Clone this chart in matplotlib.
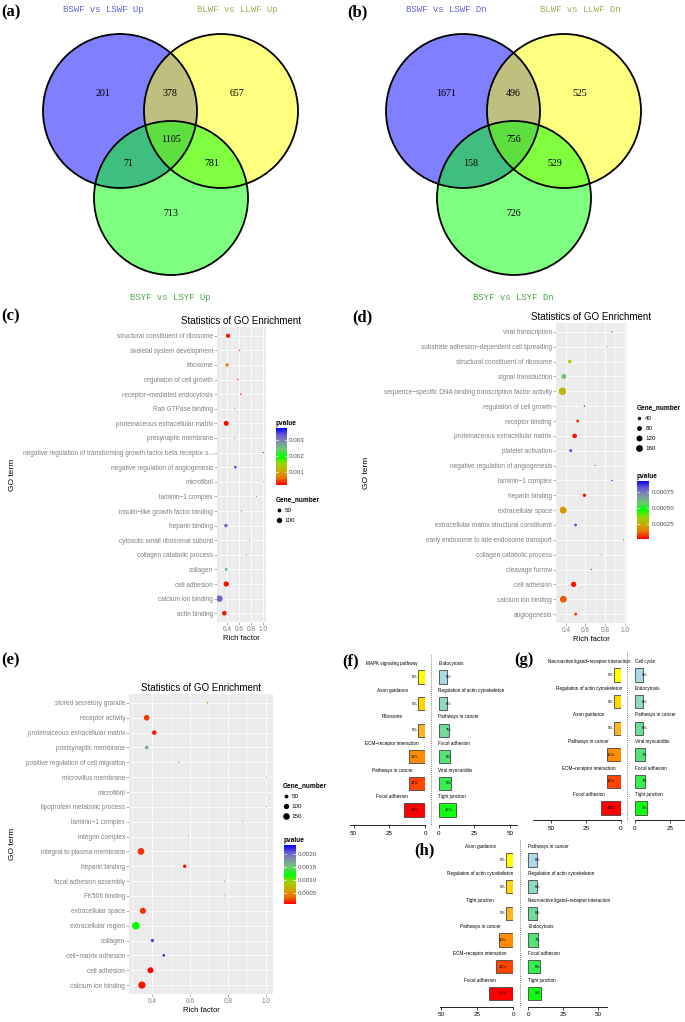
import numpy as np
import matplotlib.pyplot as plt
from matplotlib.patches import Circle
from matplotlib.lines import Line2D
from matplotlib.colors import LinearSegmentedColormap, Normalize
from matplotlib.cm import ScalarMappable

plt.rcParams['font.family'] = ['Liberation Sans', 'DejaVu Sans']

W, H = 685, 1022

# ---- Venn data: regions = A only, A&B, B only, A&C, A&B&C, B&C, C only
venn_a_sets = ["BSWF vs LSWF Up", "BLWF vs LLWF Up", "BSYF vs LSYF Up"]
venn_a_counts = [201, 378, 657, 71, 1105, 781, 713]
venn_b_sets = ["BSWF vs LSWF Dn", "BLWF vs LLWF Dn", "BSYF vs LSYF Dn"]
venn_b_counts = [1671, 496, 525, 158, 756, 529, 726]

# ---- GO enrichment (c)
c_terms = ["structural constituent of ribosome", "skeletal system development", "ribosome",
           "regulation of cell growth", "receptor\u2212mediated endocytosis", "Rab GTPase binding",
           "proteinaceous extracellular matrix", "presynaptic membrane",
           "negative regulation of transforming growth factor beta receptor s...",
           "negative regulation of angiogenesis", "microfibril", "laminin\u22121 complex",
           "insulin\u2212like growth factor binding", "heparin binding",
           "cytosolic small ribosomal subunit", "collagen catabolic process", "collagen",
           "cell adhesion", "calcium ion binding", "actin binding"]
c_rich = [0.42, 0.61, 0.405, 0.58, 0.63, 0.53, 0.39, 0.53, 1.0, 0.54,
          1.0, 0.89, 0.64, 0.385, 0.78, 0.72, 0.39, 0.39, 0.28, 0.36]
c_genes = [60, 8, 35, 8, 8, 6, 85, 6, 4, 25, 4, 5, 6, 40, 5, 6, 30, 95, 140, 75]
c_pvals = [0.00027, 0.00048, 0.00063, 0.00041, 0.00034, 0.00261, 0.0002, 0.00198, 0.00375, 0.0034,
           0.00091, 0.00066, 0.00066, 0.00332, 0.00119, 0.00073, 0.00251, 0.00024, 0.00322, 0.00027]

# ---- GO enrichment (d)
d_terms = ["viral transcription", "substrate adhesion\u2212dependent cell spreading",
           "structural constituent of ribosome", "signal transduction",
           "sequence\u2212specific DNA binding transcription factor activity",
           "regulation of cell growth", "receptor binding", "proteinaceous extracellular matrix",
           "platelet activation", "negative regulation of angiogenesis", "laminin\u22121 complex",
           "heparin binding", "extracellular space", "extracellular matrix structural constituent",
           "early endosome to late endosome transport", "collagen catabolic process",
           "cleavage furrow", "cell adhesion", "calcium ion binding", "angiogenesis"]
d_rich = [0.87, 0.82, 0.44, 0.38, 0.366, 0.59, 0.52, 0.49, 0.45, 0.70,
          0.87, 0.59, 0.373, 0.50, 0.99, 0.76, 0.66, 0.48, 0.375, 0.50]
d_genes = [8, 6, 40, 85, 190, 8, 30, 75, 30, 8, 6, 40, 170, 25, 4, 7, 10, 100, 160, 30]
d_pvals = [0.00079, 0.0002, 0.00032, 0.0006, 0.00029, 0.00083, 0.000078, 0.000042, 0.00083, 0.00016,
           0.00092, 0.000042, 0.00022, 0.00085, 0.0000245, 0.00036, 0.00074, 0.000042, 0.00011, 0.000078]

# ---- GO enrichment (e)
e_terms = ["stored secretory granule", "receptor activity", "proteinaceous extracellular matrix",
           "postsynaptic membrane", "positive regulation of cell migration", "microvillus membrane",
           "microfibril", "lipoprotein metabolic process", "laminin\u22121 complex", "integrin complex",
           "integral to plasma membrane", "heparin binding", "focal adhesion assembly", "FK506 binding",
           "extracellular space", "extracellular region", "collagen", "cell\u2212matrix adhesion",
           "cell adhesion", "calcium ion binding"]
e_rich = [0.69, 0.37, 0.41, 0.37, 0.54, 1.0, 1.0, 1.0, 0.875, 0.59,
          0.34, 0.57, 0.78, 0.78, 0.35, 0.313, 0.40, 0.46, 0.39, 0.345]
e_genes = [8, 110, 70, 45, 6, 4, 4, 4, 5, 6, 160, 40, 5, 5, 130, 200, 35, 20, 120, 180]
e_pvals = [0.00053, 0.0002, 0.000116, 0.00167, 0.00121, 0.00041, 0.00087, 0.00048, 0.00057, 0.00087,
           0.0002, 0.00009, 0.00178, 0.00167, 0.0002, 0.00121, 0.00217, 0.00235, 0.00007, 0.000116]

# ---- KEGG bar panels (f, g, h): left = up, right = down, percentages
f_left_terms = ["MAPK signaling pathway", "Axon guidance", "Ribosome",
                "ECM\u2212receptor interaction", "Pathways in cancer", "Focal adhesion"]
f_left_pct = [5, 5, 5, 11, 11, 15]
f_right_terms = ["Endocytosis", "Regulation of actin cytoskeleton", "Pathways in cancer",
                 "Focal adhesion", "Viral myocarditis", "Tight junction"]
f_right_pct = [6, 6, 7, 8, 9, 12]
g_left_terms = ["Neuroactive ligand\u2212receptor interaction", "Regulation of actin cytoskeleton",
                "Axon guidance", "Pathways in cancer", "ECM\u2212receptor interaction", "Focal adhesion"]
g_left_pct = [5, 5, 5, 10, 10, 14]
g_right_terms = ["Cell cycle", "Endocytosis", "Pathways in cancer", "Viral myocarditis",
                 "Focal adhesion", "Tight junction"]
g_right_pct = [6, 6, 6, 7, 7, 9]
h_left_terms = ["Axon guidance", "Regulation of actin cytoskeleton", "Tight junction",
                "Pathways in cancer", "ECM\u2212receptor interaction", "Focal adhesion"]
h_left_pct = [5, 5, 5, 10, 12, 17]
h_right_terms = ["Pathways in cancer", "Regulation of actin cytoskeleton",
                 "Neuroactive ligand\u2212receptor interaction", "Endocytosis", "Focal adhesion",
                 "Tight junction"]
h_right_pct = [6, 6, 6, 7, 8, 9]

left_colors = ['#ffff00', '#ffd700', '#ffb41f', '#ff8c00', '#ff4500', '#ff0000']
right_colors = ['#add8e6', '#8fd9bd', '#6fdd9a', '#52e477', '#35ef4f', '#10ff10']

go_cmap = LinearSegmentedColormap.from_list(
    'go', ['#ff0000', '#e87600', '#c9ab00', '#98d700', '#00ff00',
           '#6fc972', '#7d93a6', '#6c5bd3', '#0000ff'])
SIZE_K = 0.15

fig = plt.figure(figsize=(W / 100, H / 100), dpi=100)


def rect(x0, y0, x1, y1):
    # pixel box (top-left origin) -> figure fraction
    return [x0 / W, 1 - y1 / H, (x1 - x0) / W, (y1 - y0) / H]


def panel_label(txt, x, y):
    fig.text(x / W, 1 - y / H, txt, fontsize=12, fontweight='bold', family='Liberation Serif',
             ha='left', va='center')


# ---------------- Venn diagrams ----------------
def venn(x0, sets, counts):
    ax = fig.add_axes(rect(x0, 0, x0 + 343, 300))
    ax.set_xlim(0, 343)
    ax.set_ylim(300, 0)
    ax.axis('off')
    centers = [(120, 111), (221, 111), (171, 198)]
    fills = ['#0000ff', '#ffff00', '#00ff00']
    for c, f in zip(centers, fills):
        ax.add_patch(Circle(c, 77, facecolor=f, alpha=0.5, edgecolor='none'))
    for c in centers:
        ax.add_patch(Circle(c, 77, facecolor='none', edgecolor='black', lw=1.3))
    spots = [(103, 94), (170, 94), (237, 94), (128, 163), (171, 139), (212, 163), (171, 214)]
    for (x, y), n in zip(spots, counts):
        ax.text(x, y, str(n), ha='center', va='center', fontsize=7.2, family='Liberation Serif')
    lab_pos = [(103, 10), (237, 10), (170, 298)]
    lab_col = ['#6464e6', '#aaaa5a', '#4caa4c']
    for (x, y), s, col in zip(lab_pos, sets, lab_col):
        ax.text(x, y, s, ha='center', va='center', fontsize=6.5, family='Liberation Mono',
                color=col, clip_on=False)


venn(0, venn_a_sets, venn_a_counts)
venn(343, venn_b_sets, venn_b_counts)
panel_label('(a)', 1, 12)
panel_label('(b)', 347, 12)


# ---------------- GO dot plots ----------------
def go_panel(box, terms, rich, genes, pvals, ylab_x):
    x0, y0, x1, y1 = box
    ax = fig.add_axes(rect(x0, y0, x1, y1))
    n = len(terms)
    ypos = np.arange(n)[::-1]
    lo, hi = min(rich), max(rich)
    pad = 0.05 * (hi - lo)
    ax.set_xlim(lo - pad, hi + pad)
    ax.set_ylim(-0.6, n - 0.4)
    ax.set_facecolor('#ebebeb')
    norm = Normalize(min(pvals), max(pvals))
    ax.scatter(rich, ypos, s=SIZE_K * np.array(genes), c=pvals, cmap=go_cmap, norm=norm,
               linewidths=0, zorder=3)
    ax.set_yticks(ypos)
    ax.set_yticklabels(terms)
    ax.set_xticks([0.4, 0.6, 0.8, 1.0])
    ax.set_xticklabels(['0.4', '0.6', '0.8', '1.0'])
    ax.set_xticks([0.3, 0.5, 0.7, 0.9], minor=True)
    ax.grid(which='major', color='white', lw=0.6)
    ax.grid(which='minor', axis='x', color='white', lw=0.3)
    ax.set_axisbelow(True)
    for s in ax.spines.values():
        s.set_visible(False)
    ax.tick_params(which='major', length=2, width=0.4, color='#7f7f7f', labelsize=4.7,
                   labelcolor='#7f7f7f', pad=1)
    ax.tick_params(which='minor', length=0)
    ax.set_title('Statistics of GO Enrichment', fontsize=7, pad=2)
    ax.set_xlabel('Rich factor', fontsize=5.5, labelpad=1)
    fig.text(ylab_x / W, 1 - (y0 + y1) / 2 / H, 'GO term', rotation=90, ha='center',
             va='center', fontsize=6)
    return norm


def pvalue_bar(box, norm, ticks, labels):
    x0, y0, x1, y1 = box
    cax = fig.add_axes(rect(x0, y0, x1, y1))
    cb = fig.colorbar(ScalarMappable(norm=norm, cmap=go_cmap), cax=cax, ticks=ticks)
    cb.outline.set_visible(False)
    cb.set_ticklabels(labels)
    cax.tick_params(labelsize=4.5, length=0, pad=1.5, labelcolor='#4d4d4d')
    for t in ticks:
        cax.plot([0, 0.2], [t, t], color='white', lw=0.5, transform=cax.get_yaxis_transform())
        cax.plot([0.8, 1], [t, t], color='white', lw=0.5, transform=cax.get_yaxis_transform())
    cax.set_title('pvalue', loc='left', fontsize=4.7, fontweight='bold', pad=2)


def gene_legend(x, y, values):
    handles = [Line2D([], [], ls='', marker='o', color='black', markeredgewidth=0,
                      markersize=np.sqrt(SIZE_K * v)) for v in values]
    fig.legend(handles, [str(v) for v in values], title='Gene_number', loc='upper left',
               bbox_to_anchor=(x / W, 1 - y / H), frameon=False, fontsize=4.5,
               title_fontproperties={'weight': 'bold', 'size': 4.7}, handlelength=0.8,
               handletextpad=0.6, labelspacing=0.75, borderpad=0, borderaxespad=0,
               alignment='left')


norm_c = go_panel((217.3, 327, 265.5, 622), c_terms, c_rich, c_genes, c_pvals, 13)
pvalue_bar((276, 428, 286.7, 485), norm_c, [0.001, 0.002, 0.003], ['0.001', '0.002', '0.003'])
gene_legend(276, 496, [50, 100])
panel_label('(c)', 1, 316)

norm_d = go_panel((556, 323, 626.7, 623), d_terms, d_rich, d_genes, d_pvals, 367)
pvalue_bar((636.7, 480.7, 649.3, 539), norm_d, [0.00025, 0.0005, 0.00075],
           ['0.00025', '0.00050', '0.00075'])
gene_legend(636.5, 404, [40, 80, 120, 160])
panel_label('(d)', 352, 317)

norm_e = go_panel((129.3, 694, 273, 994), e_terms, e_rich, e_genes, e_pvals, 13)
pvalue_bar((284, 845, 295.7, 904), norm_e, [0.0005, 0.001, 0.0015, 0.002],
           ['0.0005', '0.0010', '0.0015', '0.0020'])
gene_legend(283, 782, [50, 100, 150])
panel_label('(e)', 1, 660)


# ---------------- KEGG bar panels ----------------
def bar_half(box, xmax, spine_max, ylim, terms, pct, colors, left):
    x0, y0, x1, y1 = box
    ax = fig.add_axes(rect(x0, y0, x1, y1))
    ax.patch.set_alpha(0)
    ypos = np.arange(len(terms))[::-1]
    ax.barh(ypos, pct, height=0.5, color=colors, edgecolor='#444444', lw=0.6)
    for y, t, v in zip(ypos, terms, pct):
        if left:
            ax.text(23, y + 0.5, t, ha='center', va='center', fontsize=3.3)
        else:
            ax.text(0, y + 0.5, t, ha='left', va='center', fontsize=3.3)
        ax.text(7, y, f'{v}%', ha='center', va='center', fontsize=3.0)
    if left:
        ax.set_xlim(xmax, 0)
    else:
        ax.set_xlim(0, xmax)
    ax.set_ylim(*ylim)
    for s in ['top', 'left', 'right']:
        ax.spines[s].set_visible(False)
    ax.spines['bottom'].set_bounds(0, spine_max)
    ax.spines['bottom'].set_linewidth(0.6)
    ax.set_yticks([])
    ax.set_xticks([t for t in (0, 25, 50) if t <= xmax])
    ax.tick_params(axis='x', labelsize=4.5, length=2.5, width=0.5, pad=1.5)


def dotted(x, ya, yb):
    fig.add_artist(Line2D([x / W, x / W], [1 - ya / H, 1 - yb / H], transform=fig.transFigure,
                          ls=(0, (1, 1.5)), color='#555555', lw=0.6))


# (f)
bar_half((345, 652, 425, 825), 56.0, 52.5, (-0.564, 5.94), f_left_terms, f_left_pct, left_colors, True)
bar_half((438.5, 652, 520, 825), 57.0, 54.8, (-0.564, 5.94), f_right_terms, f_right_pct, right_colors, False)
dotted(430.7, 655, 825)
panel_label('(f)', 342, 661)

# (g)
bar_half((528, 652, 620.7, 820), 66.7, 63, (-0.45, 5.865), g_left_terms, g_left_pct, left_colors, True)
bar_half((634.7, 652, 685, 820), 35.9, 36, (-0.45, 5.865), g_right_terms, g_right_pct, right_colors, False)
dotted(627.3, 652, 820)
panel_label('(g)', 514, 660)

# (h)
bar_half((430, 838, 513.3, 1006.7), 57.8, 51, (-0.5, 5.825), h_left_terms, h_left_pct, left_colors, True)
bar_half((528.3, 838, 615, 1006.7), 61.9, 56, (-0.5, 5.825), h_right_terms, h_right_pct, right_colors, False)
dotted(520, 840, 1006.7)
panel_label('(h)', 414, 850)

fig.savefig('out.png', dpi=100)
